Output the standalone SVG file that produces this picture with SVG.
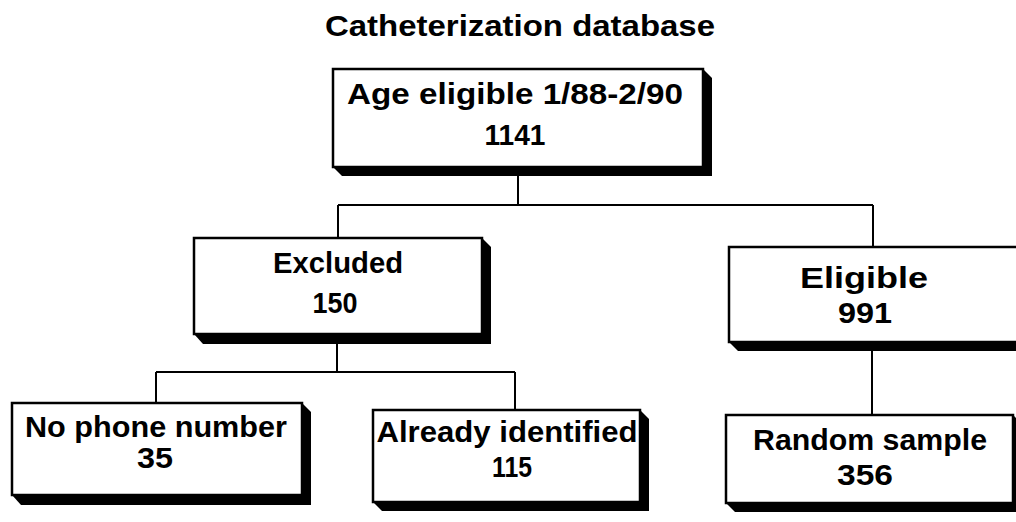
<svg xmlns="http://www.w3.org/2000/svg" width="1016" height="522" viewBox="0 0 1016 522">
<style>
.face{fill:#fff;stroke:#000;stroke-width:2.5}
.shadow{fill:#000}
.t{font-family:"Liberation Sans",Arial,sans-serif;font-weight:bold;font-size:30px;fill:#000;text-anchor:middle}
.c{fill:none;stroke:#000;stroke-width:2}
</style>
<rect width="1016" height="522" fill="#fff"/>
<text class="t" x="520" y="36" textLength="390" lengthAdjust="spacingAndGlyphs">Catheterization database</text>
<g id="connectors">
<path class="c" d="M518 172V205M338 205H873M338 205V238M873 205V247"/>
<path class="c" d="M337 340V372M156 372H515M156 372V403M515 372V410"/>
<path class="c" d="M872 348V415"/>
</g>
<g id="n-age">
<polygon class="shadow" points="333,167 342,176 712,176 712,78 703,69"/>
<rect class="face" x="333" y="69" width="370" height="98"/>
<text class="t" x="515" y="104" textLength="336" lengthAdjust="spacingAndGlyphs">Age eligible 1/88-2/90</text>
<text class="t" x="515" y="145" textLength="61" lengthAdjust="spacingAndGlyphs">1141</text>
</g>
<g id="n-excluded">
<polygon class="shadow" points="194,334 203,344 491,344 491,247 482,238"/>
<rect class="face" x="194" y="238" width="288" height="96"/>
<text class="t" x="338" y="273" textLength="130" lengthAdjust="spacingAndGlyphs">Excluded</text>
<text class="t" x="335" y="313" textLength="45" lengthAdjust="spacingAndGlyphs">150</text>
</g>
<g id="n-eligible">
<polygon class="shadow" points="729,342 738,351 1030,351 1030,256 1021,247"/>
<rect class="face" x="729" y="247" width="292" height="95"/>
<text class="t" x="864" y="288" textLength="128" lengthAdjust="spacingAndGlyphs">Eligible</text>
<text class="t" x="865" y="323" textLength="54" lengthAdjust="spacingAndGlyphs">991</text>
</g>
<g id="n-nophone">
<polygon class="shadow" points="12,495 21,505 311,505 311,412 302,403"/>
<rect class="face" x="12" y="403" width="290" height="92"/>
<text class="t" x="156" y="437" textLength="262" lengthAdjust="spacingAndGlyphs">No phone number</text>
<text class="t" x="155" y="468" textLength="36" lengthAdjust="spacingAndGlyphs">35</text>
</g>
<g id="n-already">
<polygon class="shadow" points="373,502 382,511 649,511 649,419 640,410"/>
<rect class="face" x="373" y="410" width="267" height="92"/>
<text class="t" x="507" y="442" textLength="261" lengthAdjust="spacingAndGlyphs">Already identified</text>
<text class="t" x="512" y="477" textLength="40" lengthAdjust="spacingAndGlyphs">115</text>
</g>
<g id="n-random">
<polygon class="shadow" points="726,503 735,512 1022,512 1022,424 1013,415"/>
<rect class="face" x="726" y="415" width="287" height="88"/>
<text class="t" x="870" y="450" textLength="234" lengthAdjust="spacingAndGlyphs">Random sample</text>
<text class="t" x="865" y="485" textLength="56" lengthAdjust="spacingAndGlyphs">356</text>
</g>
</svg>
